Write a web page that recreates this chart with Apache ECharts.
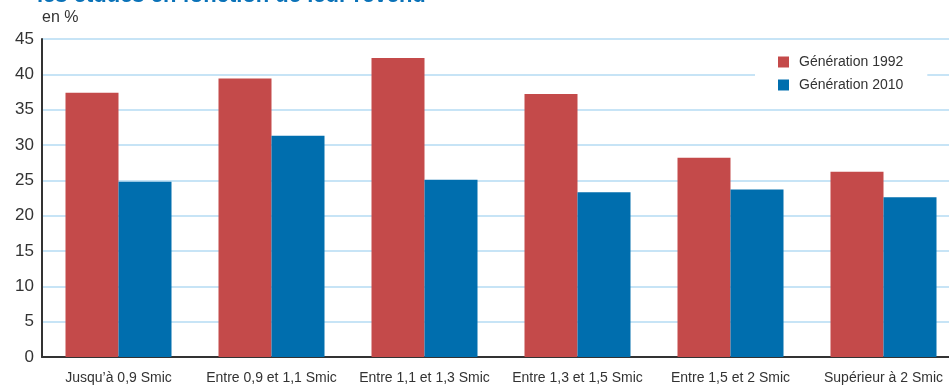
<!DOCTYPE html>
<html><head><meta charset="utf-8">
<script src="https://cdn.jsdelivr.net/npm/echarts@6/dist/echarts.min.js"></script>
<style>html,body{margin:0;padding:0;background:#fff}#c{width:949px;height:385px}</style>
</head><body><div id="c"></div>
<script>
var categories = ['Jusqu\u2019à 0,9 Smic','Entre 0,9 et 1,1 Smic','Entre 1,1 et 1,3 Smic','Entre 1,3 et 1,5 Smic','Entre 1,5 et 2 Smic','Supérieur à 2 Smic'];
var gen1992 = [37.4, 39.4, 42.3, 37.2, 28.2, 26.2];
var gen2010 = [24.8, 31.3, 25.1, 23.3, 23.7, 22.6];
var yTicks = [0,5,10,15,20,25,30,35,40,45];
var FONT = '"Liberation Sans", Arial, sans-serif';
var chart = echarts.init(document.getElementById('c'));
chart.setOption({
  animation:false,
  textStyle:{fontFamily:FONT},
  graphic:[
    {type:'text', left:37, top:-15, style:{text:'les études en fonction de leur revenu', font:'bold 22px '+FONT, fill:'#0a72b8'}},
    {type:'text', left:42, top:10, style:{text:'en %', font:'16px '+FONT, fill:'#333'}}
  ],
  legend:{
    orient:'vertical', left:755, top:50, itemWidth:11, itemHeight:11, itemGap:9, icon:'rect',
    backgroundColor:'#fff', padding:[5,24,6,23],
    textStyle:{fontSize:14, color:'#333', fontFamily:FONT, padding:[0,0,0,5]},
    data:['Génération 1992','Génération 2010']
  },
  grid:{left:42, top:39, width:918, height:318, containLabel:false, outerBoundsMode:'none'},
  xAxis:{type:'category', data:categories,
    axisLine:{lineStyle:{color:'#333', width:2}}, axisTick:{show:false},
    axisLabel:{fontSize:14, color:'#333', margin:14, fontFamily:FONT, interval:0}},
  yAxis:{type:'value', min:0, max:45, interval:5,
    axisLine:{show:true, lineStyle:{color:'#333', width:2}}, axisTick:{show:false},
    splitLine:{lineStyle:{color:'#b5dbf3', width:1.5}},
    axisLabel:{fontSize:17, color:'#333', margin:8, fontFamily:FONT,
      formatter:function(v){return yTicks.indexOf(v)>=0?String(v):'';}}},
  series:[
    {name:'Génération 1992', type:'bar', data:gen1992, barWidth:53, barGap:'0%', itemStyle:{color:'#c44a4a'}},
    {name:'Génération 2010', type:'bar', data:gen2010, barWidth:53, itemStyle:{color:'#006eae'}}
  ]
});
</script></body></html>
